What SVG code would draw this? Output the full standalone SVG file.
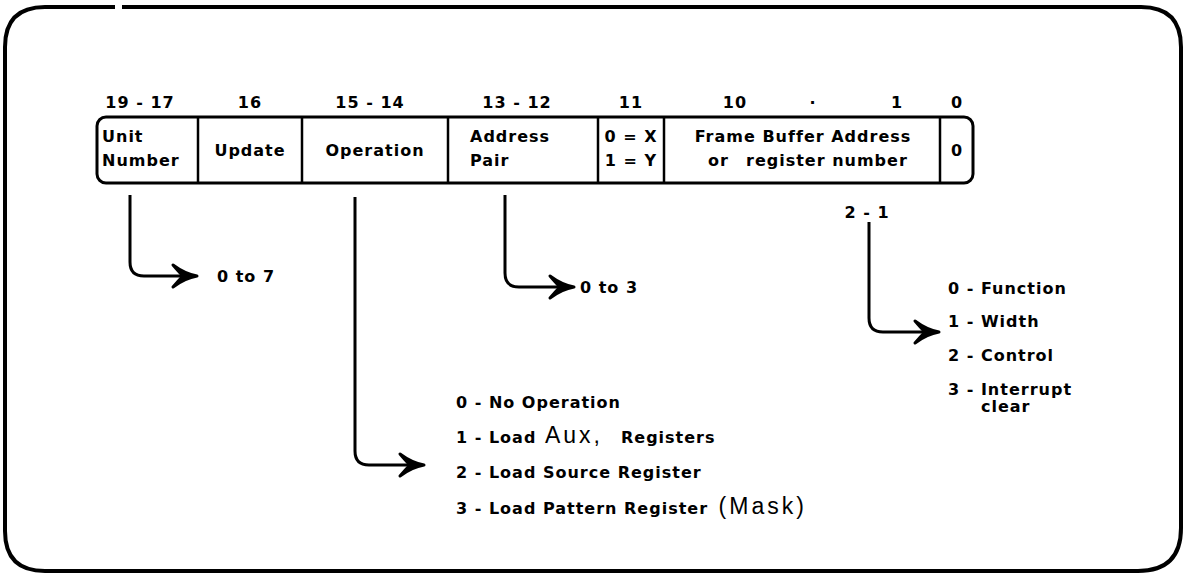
<svg xmlns="http://www.w3.org/2000/svg" width="1183" height="576" viewBox="0 0 1183 576">
<style>
  .t { font-family: "DejaVu Sans", "Liberation Sans", sans-serif; font-weight: bold; font-size: 16px; letter-spacing: 1px; fill: #000; }
  .c { text-anchor: middle; }
  .hand { font-family: "Liberation Sans", "DejaVu Sans", sans-serif; font-weight: normal; font-size: 23px; letter-spacing: 3px; fill: #000; }
  .frame { fill: none; stroke: #000; stroke-width: 4; }
  .box { fill: none; stroke: #000; stroke-width: 3; }
  .div { stroke: #000; stroke-width: 2.5; }
  .conn { fill: none; stroke: #000; stroke-width: 3; }
</style>
<defs>
  <marker id="arrow" markerUnits="userSpaceOnUse" viewBox="-30 -15 36 30" markerWidth="36" markerHeight="30" refX="-2" refY="0" orient="auto">
    <path d="M2,0 Q-10,-2 -22,-11 Q-16,-4 -12,0 Q-16,4 -22,11 Q-10,2 2,0 Z" fill="#000" stroke="#000" stroke-width="3" stroke-linejoin="round"/>
  </marker>
</defs>
<rect width="1183" height="576" fill="#fff"/>
<path class="frame" d="M122,7 H1141 Q1181,7 1181,47 V528 Q1181,571 1138,571 H45 Q5,571 5,531 V47 Q5,7 45,7 H115"/>

<g id="bit-labels">
  <text class="t c" x="140" y="108">19 - 17</text>
  <text class="t c" x="250" y="108">16</text>
  <text class="t c" x="370" y="108">15 - 14</text>
  <text class="t c" x="517" y="108">13 - 12</text>
  <text class="t c" x="631" y="108">11</text>
  <text class="t c" x="735" y="108">10</text>
  <text class="t c" x="813" y="108">·</text>
  <text class="t c" x="897" y="108">1</text>
  <text class="t c" x="957" y="108">0</text>
</g>

<g id="register">
  <rect class="box" x="97" y="117" width="876" height="66" rx="9"/>
  <line class="div" x1="198" y1="117" x2="198" y2="183"/>
  <line class="div" x1="302" y1="117" x2="302" y2="183"/>
  <line class="div" x1="448" y1="117" x2="448" y2="183"/>
  <line class="div" x1="598" y1="117" x2="598" y2="183"/>
  <line class="div" x1="664" y1="117" x2="664" y2="183"/>
  <line class="div" x1="940" y1="117" x2="940" y2="183"/>
</g>
<g id="field-unit">
  <text class="t" x="102" y="142">Unit</text>
  <text class="t" x="102" y="166">Number</text>
</g>
<g id="field-update">
  <text class="t c" x="250" y="156">Update</text>
</g>
<g id="field-operation">
  <text class="t c" x="375" y="156">Operation</text>
</g>
<g id="field-address-pair">
  <text class="t" x="470" y="142">Address</text>
  <text class="t" x="470" y="166">Pair</text>
</g>
<g id="field-xy">
  <text class="t c" x="631" y="142">0 = X</text>
  <text class="t c" x="631" y="166">1 = Y</text>
</g>
<g id="field-frame-buffer">
  <text class="t c" x="803" y="142">Frame Buffer Address</text>
  <text class="t" x="708" y="166">or</text>
  <text class="t" x="746" y="166">register number</text>
</g>
<g id="field-zero">
  <text class="t c" x="957" y="156">0</text>
</g>

<g id="connectors">
  <path class="conn" d="M130,195 V262 Q130,276 144,276 H193" marker-end="url(#arrow)"/>
  <path class="conn" d="M355,197 V451 Q355,465 369,465 H420" marker-end="url(#arrow)"/>
  <path class="conn" d="M505,195 V273 Q505,287 519,287 H570" marker-end="url(#arrow)"/>
  <path class="conn" d="M869,222 V318 Q869,332 883,332 H935" marker-end="url(#arrow)"/>
</g>

<g id="unit-values">
  <text class="t" x="217" y="282">0 to 7</text>
</g>
<g id="pair-values">
  <text class="t" x="580" y="293">0 to 3</text>
</g>
<g id="register-select">
  <text class="t c" x="867" y="218">2 - 1</text>
  <text class="t" x="948" y="294">0 - Function</text>
  <text class="t" x="948" y="327">1 - Width</text>
  <text class="t" x="948" y="361">2 - Control</text>
  <text class="t" x="948" y="395">3 - Interrupt</text>
  <text class="t" x="981" y="412">clear</text>
</g>
<g id="operation-values">
  <text class="t" x="456" y="408">0 - No Operation</text>
  <text class="t" x="456" y="443">1 - Load <tspan class="hand" dx="2">Aux,</tspan><tspan dx="18">Registers</tspan></text>
  <text class="t" x="456" y="478">2 - Load Source Register</text>
  <text class="t" x="456" y="514">3 - Load Pattern Register <tspan class="hand" dx="4">(Mask)</tspan></text>
</g>
</svg>
